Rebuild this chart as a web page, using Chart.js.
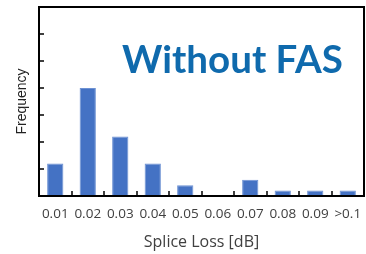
<!DOCTYPE html>
<html>
<head>
<meta charset="utf-8">
<script src="https://cdn.jsdelivr.net/npm/chart.js@4/dist/chart.umd.min.js"></script>
<style>
  html, body { margin: 0; padding: 0; background: #fff; }
  #wrap { width: 366px; height: 254px; }
</style>
</head>
<body>
<div id="wrap"><canvas id="hist"></canvas></div>
<script>
const categories = ['0.01', '0.02', '0.03', '0.04', '0.05', '0.06', '0.07', '0.08', '0.09', '>0.1'];
const counts = [6, 20, 11, 6, 2, 0, 3, 1, 1, 1];
const yTicks = [0, 5, 10, 15, 20, 25, 30, 35];
const label = 'Without FAS';

// box + inward tick marks + big label
const frame = {
    id: 'frame',
    afterDraw(chart) {
        const ctx = chart.ctx;
        const a = chart.chartArea;
        const x = chart.scales.x, y = chart.scales.y;
        ctx.save();
        ctx.strokeStyle = '#000';
        ctx.lineWidth = 2;
        ctx.strokeRect(a.left, a.top, a.right - a.left, a.bottom - a.top);
        ctx.lineWidth = 1.5;
        ctx.beginPath();
        for (let v of yTicks) {
            if (v === 0 || v === 35) continue;
            let py = Math.round(y.getPixelForValue(v));
            ctx.moveTo(a.left, py);
            ctx.lineTo(a.left + 5, py);
        }
        for (let i = 1; i < categories.length; i++) {
            let px = Math.round((x.getPixelForValue(i - 1) + x.getPixelForValue(i)) / 2);
            ctx.moveTo(px, a.bottom);
            ctx.lineTo(px, a.bottom - 5);
        }
        ctx.stroke();
        ctx.fillStyle = '#0F6AAD';
        ctx.font = 'bold 38.5px Lato';
        ctx.textBaseline = 'alphabetic';
        ctx.fillText(label, 122, 73);
        ctx.restore();
    }
};

const hist = new Chart(
    document.getElementById('hist').getContext('2d'),
    {
        type: 'bar',
        data: {
            labels: categories,
            datasets: [{
                data: counts,
                backgroundColor: '#4472C4',
                borderColor: '#6D91D3',
                borderWidth: 1,
                barPercentage: 0.5,
                categoryPercentage: 1.0
            }]
        },
        options: {
            responsive: true,
            maintainAspectRatio: false,
            animation: false,
            layout: { padding: { left: 14, top: 7, right: 2, bottom: 0 } },
            scales: {
                y: {
                    min: 0,
                    max: 35,
                    ticks: { display: false, stepSize: 5 },
                    grid: { display: false },
                    border: { display: false },
                    title: {
                        display: true,
                        text: 'Frequency',
                        color: '#222',
                        font: { family: 'Liberation Sans', size: 14 },
                        padding: 0
                    },
                    afterFit(s) { s.width = 25; }
                },
                x: {
                    grid: { drawOnChartArea: false, drawTicks: true, tickLength: 10, tickColor: 'rgba(0,0,0,0)' },
                    border: { display: false },
                    ticks: {
                        color: '#404040',
                        padding: 0,
                        maxRotation: 0,
                        minRotation: 0,
                        autoSkip: false,
                        font: { family: 'Open Sans', size: 13.5 }
                    },
                    title: {
                        display: true,
                        text: 'Splice Loss [dB]',
                        color: '#404040',
                        font: { family: 'Open Sans', size: 16 },
                        padding: { top: 0, bottom: 2 }
                    },
                    afterFit(s) { s.height = 58; s.paddingRight = 0; s.paddingLeft = 0; }
                }
            },
            plugins: {
                legend: { display: false },
                tooltip: { enabled: false }
            }
        },
        plugins: [frame]
    }
);

hist.update();
</script>
</body>
</html>
